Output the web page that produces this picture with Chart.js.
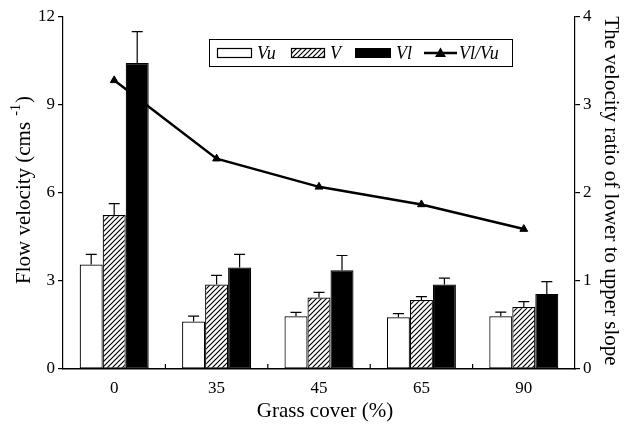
<!DOCTYPE html>
<html><head><meta charset="utf-8">
<script src="https://cdn.jsdelivr.net/npm/chart.js@4"></script>
<style>html,body{margin:0;padding:0;background:#fff}#wrap{width:625px;height:424px;position:relative}</style>
</head><body><div id="wrap"><canvas id="c" width="625" height="424" style="width:625px;height:424px"></canvas></div>
<script>
const categories = ['0', '35', '45', '65', '90'];
const vu = [3.56, 1.62, 1.80, 1.76, 1.80];
const vuErr = [0.35, 0.18, 0.13, 0.13, 0.14];
const v = [5.25, 2.88, 2.44, 2.35, 2.11];
const vErr = [0.39, 0.31, 0.17, 0.12, 0.19];
const vl = [10.43, 3.46, 3.37, 2.88, 2.56];
const vlErr = [1.07, 0.45, 0.50, 0.22, 0.42];
const ratio = [3.28, 2.39, 2.07, 1.87, 1.59];
const leftTicks = [0, 3, 6, 9, 12];
const rightTicks = [0, 1, 2, 3, 4];
const errors = { Vu: vuErr, V: vErr, Vl: vlErr };

const FONT = '"Liberation Serif", "Times New Roman", serif';

function hatch() {
  const s = 5;
  const c = document.createElement('canvas');
  c.width = s; c.height = s;
  const g = c.getContext('2d');
  g.fillStyle = '#fff'; g.fillRect(0, 0, s, s);
  g.strokeStyle = '#000'; g.lineWidth = 1.2;
  g.beginPath();
  g.moveTo(-1, s + 1); g.lineTo(s + 1, -1);
  g.moveTo(-1, 1); g.lineTo(1, -1);
  g.moveTo(s - 1, s + 1); g.lineTo(s + 1, s - 1);
  g.stroke();
  return document.getElementById('c').getContext('2d').createPattern(c, 'repeat');
}
const hatchPattern = hatch();

const extras = {
  id: 'extras',
  afterDatasetsDraw(chart) {
    const ctx = chart.ctx;
    const ys = chart.scales.y;
    ctx.save();
    ctx.strokeStyle = '#000';
    ctx.lineWidth = 1.2;
    chart.data.datasets.forEach((ds, i) => {
      const err = errors[ds.label];
      if (!err || ds.type === 'line') return;
      const meta = chart.getDatasetMeta(i);
      meta.data.forEach((el, j) => {
        const x = el.x;
        const y0 = el.y;
        const y1 = ys.getPixelForValue(ds.data[j] + err[j]);
        ctx.beginPath();
        ctx.moveTo(x, y0); ctx.lineTo(x, y1);
        ctx.moveTo(x - 5.5, y1); ctx.lineTo(x + 5.5, y1);
        ctx.stroke();
      });
    });
    ctx.restore();
  },
  afterDraw(chart) {
    const ctx = chart.ctx;
    const xs = chart.scales.x;
    const area = chart.chartArea;
    ctx.save();
    ctx.strokeStyle = '#000';
    ctx.lineWidth = 1.2;
    for (let i = 1; i < categories.length; i++) {
      const x = (xs.getPixelForValue(i - 1) + xs.getPixelForValue(i)) / 2;
      ctx.beginPath();
      ctx.moveTo(x, area.bottom); ctx.lineTo(x, area.bottom - 5);
      ctx.stroke();
    }
    ctx.fillStyle = '#000';
    ctx.textBaseline = 'middle';
    ctx.save();
    ctx.translate(24, 190);
    ctx.rotate(-Math.PI / 2);
    const main = 'Flow velocity (cms ';
    const sup = '-1';
    const close = ')';
    ctx.font = '21px ' + FONT;
    const wMain = ctx.measureText(main).width;
    const wClose = ctx.measureText(close).width;
    ctx.font = '14px ' + FONT;
    const wSup = ctx.measureText(sup).width + 2;
    const total = wMain + wSup + wClose;
    let x0 = -total / 2;
    ctx.textAlign = 'left';
    ctx.font = '21px ' + FONT;
    ctx.fillText(main, x0, 0);
    ctx.font = '14px ' + FONT;
    ctx.fillText(sup, x0 + wMain + 1, -8);
    ctx.font = '21px ' + FONT;
    ctx.fillText(close, x0 + wMain + wSup, 0);
    ctx.restore();
    ctx.save();
    ctx.translate(611, 191);
    ctx.rotate(Math.PI / 2);
    ctx.textAlign = 'center';
    ctx.font = '21px ' + FONT;
    ctx.fillText('The velocity ratio of lower to upper slope', 0, 0);
    ctx.restore();
    ctx.textAlign = 'center';
    ctx.font = '21px ' + FONT;
    ctx.fillText('Grass cover (%)', 325, 411);
    // legend
    ctx.fillStyle = '#fff';
    ctx.fillRect(209, 39, 303, 28);
    ctx.lineWidth = 1;
    ctx.strokeRect(209.5, 39.5, 303, 27);
    const ly = 53;
    ctx.lineWidth = 1.2;
    ctx.fillStyle = '#fff';
    ctx.fillRect(217, ly - 5, 35, 10); ctx.strokeRect(217.5, ly - 4.5, 34, 9);
    ctx.fillStyle = hatchPattern;
    ctx.fillRect(291, ly - 5, 34, 10); ctx.strokeRect(291.5, ly - 4.5, 33, 9);
    ctx.fillStyle = '#000';
    ctx.fillRect(355, ly - 5, 36, 10);
    ctx.lineWidth = 2.5;
    ctx.beginPath(); ctx.moveTo(424, ly); ctx.lineTo(457, ly); ctx.stroke();
    ctx.beginPath();
    ctx.moveTo(440.5, ly - 5.5); ctx.lineTo(446, ly + 4); ctx.lineTo(435, ly + 4); ctx.closePath();
    ctx.fill();
    ctx.font = 'italic 18px ' + FONT;
    ctx.textAlign = 'left';
    ctx.fillText('Vu', 257, ly + 1);
    ctx.fillText('V', 330, ly + 1);
    ctx.fillText('Vl', 396, ly + 1);
    ctx.fillText('Vl/Vu', 459, ly + 1);
    ctx.restore();
  }
};

const barCommon = {
  borderColor: '#000', borderWidth: 1.2, borderSkipped: false,
  yAxisID: 'y', order: 1,
  categoryPercentage: 0.674, barPercentage: 1.0
};

new Chart(document.getElementById('c'), {
  type: 'bar',
  data: {
    labels: categories,
    datasets: [
      Object.assign({ label: 'Vu', data: vu, backgroundColor: '#fff' }, barCommon),
      Object.assign({ label: 'V', data: v, backgroundColor: hatchPattern }, barCommon),
      Object.assign({ label: 'Vl', data: vl, backgroundColor: '#000' }, barCommon),
      {
        type: 'line', label: 'Vl/Vu', data: ratio, yAxisID: 'y1', order: 2,
        borderColor: '#000', borderWidth: 2.5, backgroundColor: '#000',
        pointStyle: 'triangle', pointRadius: 4.5, pointBackgroundColor: '#000',
        pointBorderColor: '#000', pointBorderWidth: 1, tension: 0, fill: false
      }
    ]
  },
  options: {
    responsive: false, maintainAspectRatio: false, animation: false, devicePixelRatio: 1,
    layout: { padding: { top: 17, left: 0, right: 0, bottom: 0 } },
    plugins: { legend: { display: false }, tooltip: { enabled: false } },
    scales: {
      x: {
        offset: true,
        grid: { display: false, drawTicks: false },
        border: { display: true, color: '#000', width: 1.5 },
        ticks: { color: '#000', font: { family: FONT, size: 17 }, padding: 9 },
        afterFit(s) { s.height = 55; }
      },
      y: {
        position: 'left', min: 0, max: 12,
        afterBuildTicks(s) { s.ticks = leftTicks.map(v => ({ value: v })); },
        grid: { drawOnChartArea: false, drawTicks: true, tickLength: 5, color: '#000', lineWidth: 1.2 },
        border: { display: true, color: '#000', width: 1.2 },
        ticks: { color: '#000', font: { family: FONT, size: 17 }, padding: 3 },
        afterFit(s) { s.width = 63; }
      },
      y1: {
        position: 'right', min: 0, max: 4,
        afterBuildTicks(s) { s.ticks = rightTicks.map(v => ({ value: v })); },
        grid: { drawOnChartArea: false, drawTicks: true, tickLength: 5, color: '#000', lineWidth: 1.2 },
        border: { display: true, color: '#000', width: 1.2 },
        ticks: { color: '#000', font: { family: FONT, size: 17 }, padding: 3 },
        afterFit(s) { s.width = 50; }
      }
    }
  },
  plugins: [extras]
});
</script>
</body></html>
